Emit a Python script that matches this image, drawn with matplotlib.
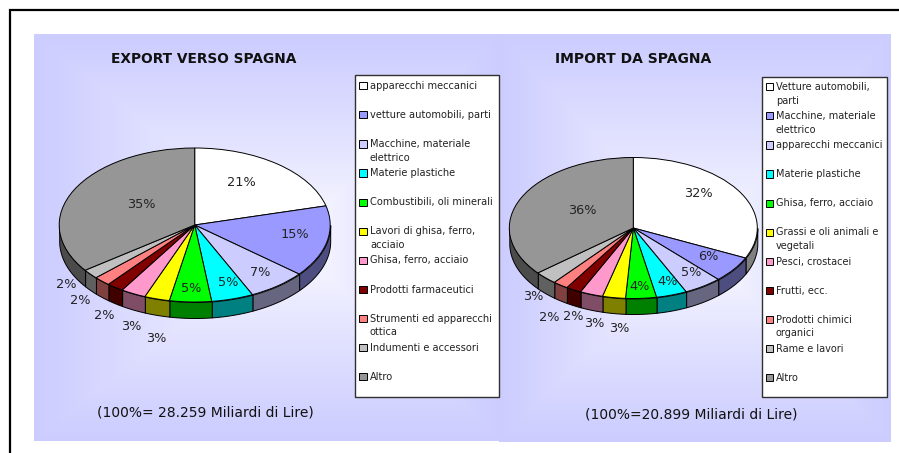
import numpy as np
import matplotlib
matplotlib.use("Agg")
import matplotlib.pyplot as plt
from matplotlib.patches import Rectangle
from matplotlib.colors import to_rgb

W, H = 899, 453

export_labels = ["apparecchi meccanici", "vetture automobili, parti", "Macchine, materiale\nelettrico",
                 "Materie plastiche", "Combustibili, oli minerali", "Lavori di ghisa, ferro,\nacciaio",
                 "Ghisa, ferro, acciaio", "Prodotti farmaceutici", "Strumenti ed apparecchi\nottica",
                 "Indumenti e accessori", "Altro"]
export_values = [21, 15, 7, 5, 5, 3, 3, 2, 2, 2, 35]
import_labels = ["Vetture automobili,\nparti", "Macchine, materiale\nelettrico", "apparecchi meccanici",
                 "Materie plastiche", "Ghisa, ferro, acciaio", "Grassi e oli animali e\nvegetali",
                 "Pesci, crostacei", "Frutti, ecc.", "Prodotti chimici\norganici",
                 "Rame e lavori", "Altro"]
import_values = [32, 6, 5, 4, 4, 3, 3, 2, 2, 3, 36]
colors = ["#FFFFFF", "#9999FF", "#CCCCFF", "#00FFFF", "#00FF00", "#FFFF00",
          "#FF99CC", "#800000", "#FF8080", "#C0C0C0", "#969696"]

export_label_xy = [(241, 182.7), (294.7, 234.7), (260, 273), (227.7, 283), (190.7, 288.3), (156, 338),
                   (131.3, 326.7), (104.3, 315.3), (80.3, 300.7), (66, 284.3), (141.7, 204.3)]
import_label_xy = [(698.7, 193.7), (708.3, 256.3), (690.7, 272.7), (668, 281.7), (639.7, 286.7),
                   (619.3, 328.7), (594.7, 323.3), (573.3, 316.7), (549, 317.7), (533, 296.7), (582, 210.7)]

plt.rcParams["font.family"] = ["DejaVu Sans"]
fig = plt.figure(figsize=(W / 100, H / 100), dpi=100, facecolor="white")

bg = fig.add_axes([0, 0, 1, 1], zorder=0)
bg.set_xlim(0, W)
bg.set_ylim(H, 0)
bg.axis("off")


def panel(x0, x1, y0, y1, cx, cy):
    xs, ys = np.meshgrid(np.arange(x0, x1) + 0.5, np.arange(y0, y1) + 0.5)
    tx = np.where(xs < cx, (cx - xs) / (cx - x0), (xs - cx) / (x1 - cx))
    ty = np.where(ys < cy, (cy - ys) / (cy - y0), (ys - cy) / (y1 - cy))
    t = np.clip(np.maximum(tx, ty), 0, 1) ** 0.8
    c0, c1 = np.array([1, 1, 1.0]), np.array(to_rgb("#CCCCFF"))
    img = c0 + (c1 - c0) * t[..., None]
    bg.imshow(img, extent=(x0, x1, y1, y0), aspect="auto", interpolation="bilinear", zorder=1)


panel(34, 499, 34, 441, 290, 240)
panel(499, 891, 34, 442, 700, 245)
bg.set_xlim(0, W)
bg.set_ylim(H, 0)

bg.plot([10, 10, W], [H, 10, 10], color="black", lw=1.6, solid_joinstyle="miter", zorder=3)


def pie3d(values, cx, cy, a, b, depth):
    m = 0.02
    ax = fig.add_axes([(cx - a * (1 + m)) / W, 1 - (cy + b * (1 + m) + depth) / H,
                       2 * a * (1 + m) / W, (2 * b * (1 + m) + depth) / H], zorder=1)
    drop = depth / b
    start = 0.0
    for v, c in zip(values, colors):
        end = start + v * 3.6
        lo, hi = max(start, 90), min(end, 270)
        if hi > lo:
            th = np.radians(np.linspace(lo, hi, 60))
            x, y = np.sin(th), np.cos(th)
            dark = tuple(0.5 * np.array(to_rgb(c)))
            ax.fill_between(x, y, y - drop, facecolor=dark, edgecolor="black", lw=0.7)
        start = end
    ax.pie(values, colors=colors, startangle=90, counterclock=False, radius=1,
           wedgeprops=dict(edgecolor="black", linewidth=0.7))
    ax.set_aspect("auto")
    ax.set_xlim(-1 - m, 1 + m)
    ax.set_ylim(-1 - m - drop, 1 + m)
    ax.axis("off")
    ax.patch.set_alpha(0)


pie3d(export_values, 194.7, 225, 135.5, 77, 16)
pie3d(import_values, 633.3, 228, 124, 70.5, 15.5)

top = fig.add_axes([0, 0, 1, 1], zorder=2)
top.set_xlim(0, W)
top.set_ylim(H, 0)
top.axis("off")
top.patch.set_alpha(0)

for vals, xy in ((export_values, export_label_xy), (import_values, import_label_xy)):
    for v, (x, y) in zip(vals, xy):
        top.text(x, y, f"{v}%", ha="center", va="center", fontsize=9.3, color="#222222")


def legend(labels, x0, x1, y0, y1, sx, tx, ry, fs):
    top.add_patch(Rectangle((x0, y0), x1 - x0, y1 - y0, facecolor="white", edgecolor="#303030", lw=1.0))
    for i, (lab, c) in enumerate(zip(labels, colors)):
        y = ry + i * 29.1
        top.add_patch(Rectangle((sx, y - 3.6), 7.2, 7.2, facecolor=c, edgecolor="black", lw=0.7))
        top.text(tx, y - 4.8, lab, ha="left", va="top", fontsize=fs, color="#222222", linespacing=1.45)


legend(export_labels, 354.5, 499, 75, 396.7, 359.3, 370, 85.7, 7.1)
legend(import_labels, 761.7, 886.7, 76.7, 397.3, 765.7, 776, 86.7, 7.0)

top.text(204, 59, "EXPORT VERSO SPAGNA", ha="center", va="center", fontsize=9.9, fontweight="bold", color="#111111")
top.text(633.5, 59, "IMPORT DA SPAGNA", ha="center", va="center", fontsize=10, fontweight="bold", color="#111111")
top.text(205, 413, "(100%= 28.259 Miliardi di Lire)", ha="center", va="center", fontsize=10, color="#111111")
top.text(691, 415, "(100%=20.899 Miliardi di Lire)", ha="center", va="center", fontsize=10, color="#111111")

fig.savefig("out.png", dpi=100)
